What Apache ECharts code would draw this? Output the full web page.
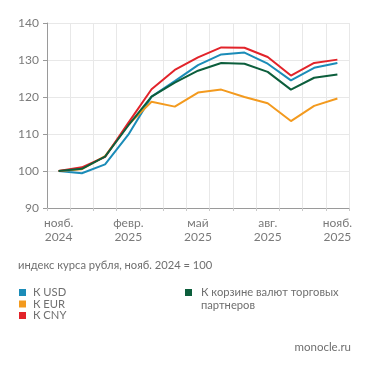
<!DOCTYPE html>
<html><head><meta charset="utf-8">
<script src="https://cdn.jsdelivr.net/npm/echarts@6/dist/echarts.min.js"></script>
<style>html,body{margin:0;padding:0;background:#fff}#c{width:371px;height:371px}</style>
</head><body><div id="c"></div>
<script>
const categories = ['нояб.\n2024','дек.','янв.','февр.\n2025','март','апр.','май\n2025','июнь','июль','авг.\n2025','сент.','окт.','нояб.\n2025'];
const shownLabels = [0,3,6,9,12];
const usd = [100, 99.4, 101.8, 109.8, 120.1, 124.3, 128.6, 131.5, 132.0, 129.0, 124.5, 127.9, 129.2];
const eur = [100, 100.5, 104.0, 112.5, 118.7, 117.4, 121.2, 122.0, 120.0, 118.3, 113.5, 117.6, 119.6];
const cny = [100, 101.0, 103.8, 113.0, 122.1, 127.3, 130.7, 133.4, 133.3, 130.8, 125.8, 129.2, 130.1];
const basket = [100, 100.6, 103.9, 112.3, 120.1, 123.9, 127.1, 129.2, 129.0, 126.8, 122.0, 125.2, 126.1];
const yTicks = {min: 90, max: 140, interval: 10};

const FONT = 'Lato';
const colors = {usd:'#1b8cb8', eur:'#f39a1e', cny:'#e2232a', basket:'#0c5e3c'};
const chart = echarts.init(document.getElementById('c'));
const mk = (name, data, color) => ({
  name, type:'line', data, symbol:'none', smooth:false,
  lineStyle:{width:2, color}, itemStyle:{color}, z: 2
});
const legendText = {color:'#6f6f6f', fontFamily:FONT, fontSize:11.2, padding:[0,0,0,2]};
chart.setOption({
  animation:false,
  grid:{left:47, right:22, top:23, bottom:163},
  xAxis:{
    type:'category', data:categories, boundaryGap:true,
    axisLine:{lineStyle:{color:'#9a9a9a', width:1}},
    axisTick:{show:true, length:3, lineStyle:{color:'#c8c8c8'}, alignWithLabel:false},
    splitLine:{show:true, lineStyle:{color:'#e8e8e8', width:1}},
    axisLabel:{
      interval:0, color:'#7a7a7a', fontFamily:FONT, fontSize:12, lineHeight:14, margin:8,
      formatter:(v, i) => shownLabels.includes(i) ? v : ''
    }
  },
  yAxis:{
    type:'value', min:yTicks.min, max:yTicks.max, interval:yTicks.interval,
    axisLine:{show:true, lineStyle:{color:'#9a9a9a', width:1}},
    axisTick:{show:true, length:4, lineStyle:{color:'#9a9a9a'}},
    splitLine:{show:true, lineStyle:{color:'#e8e8e8', width:1}},
    axisLabel:{color:'#7a7a7a', fontFamily:FONT, fontSize:12, margin:8}
  },
  legend:[
    {left:19, top:287, padding:0, orient:'vertical', itemGap:0.5, itemWidth:7, itemHeight:7, icon:'rect',
     data:['К USD','К EUR','К CNY'], textStyle:legendText},
    {left:185, top:287, padding:0, orient:'vertical', itemWidth:7, itemHeight:7, icon:'rect',
     data:['К корзине валют торговых партнеров'],
     formatter:() => 'К корзине валют торговых',
     textStyle:Object.assign({}, legendText, {padding:[0,0,0,4]})}
  ],
  title:[
    {text:'индекс курса рубля, нояб. 2024 = 100', left:13, top:255,
     textStyle:{color:'#6f6f6f', fontFamily:FONT, fontSize:11.2, fontWeight:'normal'}},
    {text:'партнеров', left:196, top:295,
     textStyle:{color:'#6f6f6f', fontFamily:FONT, fontSize:11.2, fontWeight:'normal'}},
    {text:'monocle.ru', right:15, top:336,
     textStyle:{color:'#6f6f6f', fontFamily:FONT, fontSize:11.5, fontWeight:'normal'}}
  ],
  series:[
    mk('К USD', usd, colors.usd),
    mk('К EUR', eur, colors.eur),
    mk('К CNY', cny, colors.cny),
    mk('К корзине валют торговых партнеров', basket, colors.basket)
  ]
});
</script></body></html>
